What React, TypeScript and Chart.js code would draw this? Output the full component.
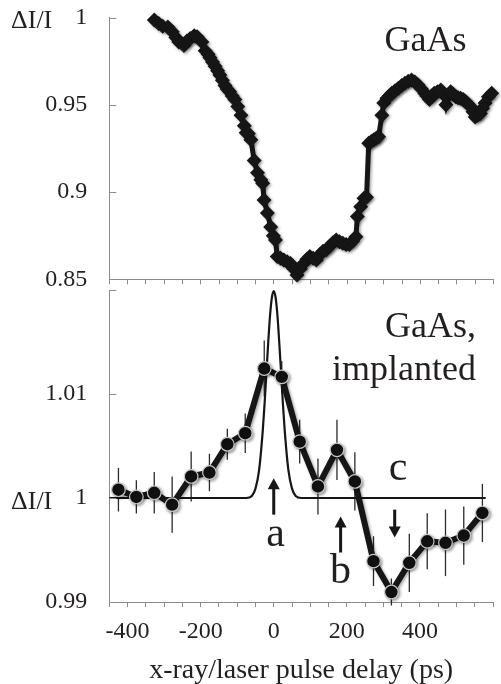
import React, { useEffect, useRef } from "react";
import { Chart, registerables } from "chart.js";

Chart.register(...registerables);

const SERIF = '"Liberation Serif", "Times New Roman", serif';
const INK = "#231f20";
const AXIS = "#8c8c8c";
const DATA = "#161616";

// shared x axis
const xMin = -450;
const xMax = 600;
const xStep = 50;
const xTickLabels = [-400, -200, 0, 200, 400];
const xTitle = "x-ray/laser pulse delay (ps)";
const yLabel = "ΔI/I";

// top panel: GaAs
const gaasTitle = "GaAs";
const gaasDelay = [
  -327, -315, -304, -290, -278, -268, -260, -246, -238, -229, -218, -210, -197, -188, -180, -175,
  -168, -161, -154, -148, -141, -134, -128, -121, -114, -107, -99, -90, -81, -76, -70, -63, -54,
  -45, -36, -31, -27, -18, -9, -2, 4, 9, 18, 27, 36, 45, 54, 63, 72, 81, 90, 98, 107, 116, 125,
  134, 143, 152, 161, 170, 179, 188, 197, 206, 215, 224, 228, 237, 246, 253, 259, 266, 273, 280,
  286, 295, 300, 309, 315, 322, 331, 340, 349, 358, 367, 376, 385, 394, 403, 412, 418, 425, 431,
  438, 447, 456, 463, 470, 476, 483, 490, 497, 503, 510, 517, 523, 530, 537, 544, 550, 557, 564,
  570, 577, 586, 595,
];
const gaasSignal = [
  0.9986, 0.9965, 0.995, 0.9945, 0.9919, 0.9885, 0.986, 0.984, 0.9865, 0.988, 0.9895, 0.989,
  0.986, 0.981, 0.979, 0.977, 0.9745, 0.972, 0.9695, 0.967, 0.964, 0.961, 0.959, 0.9575, 0.955,
  0.953, 0.949, 0.944, 0.938, 0.934, 0.9335, 0.93, 0.918, 0.911, 0.907, 0.905, 0.8954, 0.888,
  0.88, 0.875, 0.8725, 0.863, 0.862, 0.861, 0.86, 0.859, 0.856, 0.8525, 0.856, 0.859, 0.8615,
  0.863, 0.862, 0.861, 0.864, 0.866, 0.867, 0.869, 0.871, 0.8725, 0.8715, 0.8706, 0.87, 0.87,
  0.872, 0.8744, 0.886, 0.8916, 0.8964, 0.897, 0.928, 0.929, 0.93, 0.931, 0.9317, 0.944, 0.951,
  0.9537, 0.955, 0.9566, 0.958, 0.9594, 0.961, 0.9623, 0.9635, 0.9642, 0.963, 0.9613, 0.959,
  0.9566, 0.955, 0.953, 0.955, 0.9566, 0.9575, 0.9585, 0.956, 0.95, 0.955, 0.9575, 0.956, 0.9546,
  0.954, 0.9537, 0.953, 0.952, 0.9505, 0.949, 0.946, 0.943, 0.944, 0.945, 0.948, 0.951, 0.9546,
  0.9566,
];
const gaasTicks = [0.85, 0.9, 0.95, 1];
const gaasTickLabels = ["0.85", "0.9", "0.95", "1"];

// bottom panel: implanted GaAs
const implTitle = ["GaAs,", "implanted"];
const implDelay = [
  -425, -376, -327, -278, -226, -176, -127, -78, -26, 22, 71, 121, 173, 222, 273, 322, 371, 420,
  470, 520, 571,
];
const implSignal = [
  1.0008, 1.0001, 1.0005, 0.99936, 1.00207, 1.00245, 1.00517, 1.00623, 1.01245, 1.01165, 1.00542,
  1.00111, 1.00463, 1.00159, 0.99393, 0.99096, 0.99377, 0.99584, 0.99569, 0.99639, 0.99856,
];
const implError = [
  0.0021, 0.0016, 0.002, 0.0027, 0.0024, 0.0018, 0.0015, 0.0019, 0.0027, 0.0015, 0.0021, 0.0027,
  0.0029, 0.0028, 0.0024, 0.0013, 0.0028, 0.0027, 0.0032, 0.0028, 0.0028,
];
const implTicks = [0.99, 1, 1.01, 1.02];
const implTickLabels = ["0.99", "1", "1.01", ""];

// laser pulse profile
const pulseDelay = [-450, -75, -60, -50, -40, -30, -25, -20, -15, -10, -5, 0, 5, 10, 15, 20, 25, 30, 40, 50, 60, 75, 580];
const pulseSignal = [
  1, 1.0, 1.0002, 1.0009, 1.0027, 1.0065, 1.0091, 1.0121, 1.015, 1.0176, 1.0193, 1.0199, 1.0193,
  1.0176, 1.015, 1.0121, 1.0091, 1.0065, 1.0027, 1.0009, 1.0002, 1.0, 1,
];

// annotations a, b, c
const markNames = ["a", "b", "c"];
const markDelay = [0, 183, 331];
const markTail = [0.9984, 0.99476, 0.99888];
const markTip = [1.0019, 0.99821, 0.9962];
const markTextDelay = [5, 183, 340];
const markTextSignal = [0.99536, 0.99186, 1.00175];

function xScale(height: number, labels: boolean, title: boolean) {
  return {
    type: "linear",
    min: xMin,
    max: xMax,
    ticks: {
      stepSize: xStep,
      autoSkip: false,
      maxRotation: 0,
      minRotation: 0,
      padding: 10.5,
      color: INK,
      font: { family: SERIF, size: 24 },
      callback: (v: number) => {
        const r = Math.round(v);
        return labels && xTickLabels.includes(r) ? String(r) : "";
      },
    },
    grid: { display: true, drawOnChartArea: false, drawTicks: true, tickLength: 5, color: AXIS, lineWidth: 1 },
    border: { display: true, color: AXIS, width: 1 },
    title: title
      ? { display: true, text: xTitle, color: INK, font: { family: SERIF, size: 28 }, padding: { top: 0, bottom: -3 } }
      : { display: false },
    afterFit: (s: any) => {
      s.height = height;
      s.paddingLeft = 0;
      s.paddingRight = 0;
    },
  };
}

function yScale(min: number, max: number, ticks: number[], labels: string[]) {
  return {
    type: "linear",
    min,
    max,
    afterBuildTicks: (s: any) => {
      s.ticks = ticks.map((value) => ({ value }));
    },
    ticks: {
      padding: 22,
      color: INK,
      font: { family: SERIF, size: 24 },
      callback: (_v: number, i: number) => labels[i],
    },
    grid: { display: true, drawOnChartArea: false, drawTicks: false, color: AXIS },
    border: { display: true, color: AXIS, width: 1 },
    afterFit: (s: any) => {
      s.width = 109.3;
      s.paddingTop = 0;
      s.paddingBottom = 0;
    },
  };
}

function inwardTicks(chart: any) {
  const { ctx, chartArea } = chart;
  const y = chart.scales.y;
  ctx.save();
  ctx.strokeStyle = AXIS;
  ctx.lineWidth = 1;
  y.ticks.forEach((t: any) => {
    const p = Math.round(y.getPixelForValue(t.value)) + 0.5;
    ctx.beginPath();
    ctx.moveTo(chartArea.left, p);
    ctx.lineTo(chartArea.left + 7, p);
    ctx.stroke();
  });
  ctx.restore();
}

function sideLabel(chart: any) {
  const { ctx } = chart;
  const y = chart.scales.y;
  ctx.save();
  ctx.fillStyle = INK;
  ctx.font = `26px ${SERIF}`;
  ctx.textAlign = "left";
  ctx.textBaseline = "alphabetic";
  ctx.fillText(yLabel, 11, y.getPixelForValue(1) + 10.5);
  ctx.restore();
}

const shadowPlugin = {
  id: "shadow",
  beforeDatasetDraw(chart: any, args: any) {
    if (args.index !== 0) return;
    const c = chart.ctx;
    c.save();
    c.shadowColor = "rgba(0,0,0,0.35)";
    c.shadowBlur = 3;
    c.shadowOffsetX = 1.5;
    c.shadowOffsetY = 1.5;
  },
  afterDatasetDraw(chart: any, args: any) {
    if (args.index !== 0) return;
    chart.ctx.restore();
  },
};

const topDecor = {
  id: "topDecor",
  afterDraw(chart: any) {
    inwardTicks(chart);
    sideLabel(chart);
    const { ctx, chartArea } = chart;
    ctx.save();
    ctx.fillStyle = INK;
    ctx.font = `36px ${SERIF}`;
    ctx.textAlign = "right";
    ctx.textBaseline = "alphabetic";
    ctx.fillText(gaasTitle, chartArea.right - 27, chartArea.top + 33);
    ctx.restore();
  },
};

function drawArrow(ctx: any, x: number, yTail: number, yTip: number) {
  const dir = yTip < yTail ? -1 : 1;
  const head = 11;
  const half = 6;
  ctx.beginPath();
  ctx.moveTo(x, yTail);
  ctx.lineTo(x, yTip - dir * head * 0.7);
  ctx.stroke();
  ctx.beginPath();
  ctx.moveTo(x, yTip);
  ctx.lineTo(x - half, yTip - dir * head);
  ctx.lineTo(x + half, yTip - dir * head);
  ctx.closePath();
  ctx.fill();
}

const errorBars = {
  id: "errorBars",
  beforeDatasetsDraw(chart: any) {
    const { ctx } = chart;
    const xs = chart.scales.x;
    const ys = chart.scales.y;
    ctx.save();
    ctx.strokeStyle = "#2a2a2a";
    ctx.lineWidth = 1.3;
    implDelay.forEach((d, i) => {
      const px = xs.getPixelForValue(d);
      ctx.beginPath();
      ctx.moveTo(px, ys.getPixelForValue(implSignal[i] - implError[i]));
      ctx.lineTo(px, ys.getPixelForValue(implSignal[i] + implError[i]));
      ctx.stroke();
    });
    ctx.restore();
  },
};

const bottomDecor = {
  id: "bottomDecor",
  afterDraw(chart: any) {
    inwardTicks(chart);
    sideLabel(chart);
    const { ctx, chartArea } = chart;
    const xs = chart.scales.x;
    const ys = chart.scales.y;
    ctx.save();
    ctx.fillStyle = INK;
    ctx.font = `36px ${SERIF}`;
    ctx.textAlign = "right";
    ctx.textBaseline = "alphabetic";
    ctx.fillText(implTitle[0], chartArea.right - 17, chartArea.top + 46.7);
    ctx.fillText(implTitle[1], chartArea.right - 17, chartArea.top + 90);
    ctx.strokeStyle = DATA;
    ctx.fillStyle = DATA;
    ctx.lineWidth = 3;
    markNames.forEach((_n, i) => {
      const px = xs.getPixelForValue(markDelay[i]);
      drawArrow(ctx, px, ys.getPixelForValue(markTail[i]), ys.getPixelForValue(markTip[i]));
    });
    ctx.fillStyle = INK;
    ctx.font = `42px ${SERIF}`;
    ctx.textAlign = "center";
    markNames.forEach((n, i) => {
      ctx.fillText(n, xs.getPixelForValue(markTextDelay[i]), ys.getPixelForValue(markTextSignal[i]));
    });
    ctx.restore();
  },
};

export default function App() {
  const topRef = useRef<HTMLCanvasElement>(null);
  const botRef = useRef<HTMLCanvasElement>(null);

  useEffect(() => {
    document.body.style.margin = "0";
    const top = new Chart(topRef.current as HTMLCanvasElement, {
      type: "scatter",
      data: {
        datasets: [
          {
            data: gaasDelay.map((x, i) => ({ x, y: gaasSignal[i] })),
            showLine: true,
            borderColor: DATA,
            borderWidth: 5,
            pointStyle: "rectRot",
            pointRadius: 7.5,
            pointBackgroundColor: DATA,
            pointBorderColor: DATA,
            pointBorderWidth: 0,
            tension: 0,
            clip: false,
          },
        ],
      },
      options: {
        animation: false,
        responsive: false,
        events: [],
        layout: { padding: { top: 17.5, right: 1, left: 0, bottom: 0 } },
        plugins: { legend: { display: false }, tooltip: { enabled: false } },
        scales: {
          x: xScale(20.7, false, false),
          y: yScale(0.85, 1, gaasTicks, gaasTickLabels),
        },
      } as any,
      plugins: [shadowPlugin, topDecor],
    } as any);

    const bot = new Chart(botRef.current as HTMLCanvasElement, {
      type: "scatter",
      data: {
        datasets: [
          {
            data: implDelay.map((x, i) => ({ x, y: implSignal[i] })),
            showLine: true,
            borderColor: DATA,
            borderWidth: 6,
            pointStyle: "circle",
            pointRadius: 6.8,
            pointBackgroundColor: "#111111",
            pointBorderColor: "#c8c8c8",
            pointBorderWidth: 1.2,
            tension: 0,
            clip: false,
          },
          {
            data: pulseDelay.map((x, i) => ({ x, y: pulseSignal[i] })),
            showLine: true,
            borderColor: DATA,
            borderWidth: 2.2,
            pointRadius: 0,
            cubicInterpolationMode: "monotone",
            clip: false,
          },
        ],
      },
      options: {
        animation: false,
        responsive: false,
        events: [],
        layout: { padding: { top: 20, right: 1, left: 0, bottom: 0 } },
        plugins: { legend: { display: false }, tooltip: { enabled: false } },
        scales: {
          x: xScale(82, true, true),
          y: yScale(0.99, 1.02, implTicks, implTickLabels),
        },
      } as any,
      plugins: [shadowPlugin, errorBars, bottomDecor],
    } as any);

    return () => {
      top.destroy();
      bot.destroy();
    };
  }, []);

  return (
    <div style={{ position: "relative", width: 501, height: 684, overflow: "hidden", background: "#fff" }}>
      <canvas
        ref={topRef}
        width={501}
        height={300}
        style={{ position: "absolute", left: 0, top: 0, width: 501, height: 300 }}
      />
      <canvas
        ref={botRef}
        width={501}
        height={414}
        style={{ position: "absolute", left: 0, top: 270, width: 501, height: 414 }}
      />
    </div>
  );
}
